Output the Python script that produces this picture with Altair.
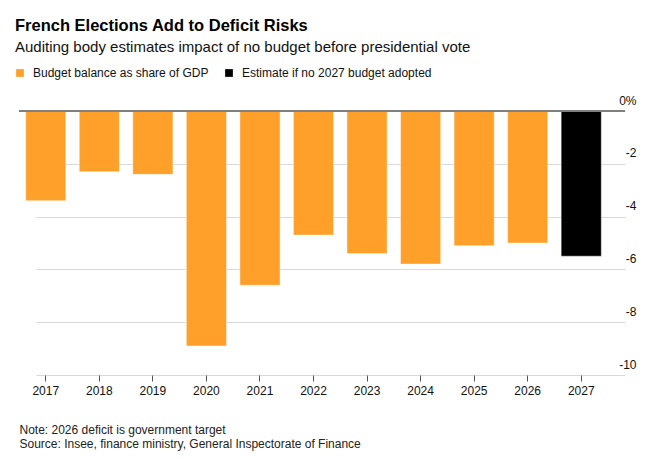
import altair as alt
import pandas as pd

years = ["2017", "2018", "2019", "2020", "2021", "2022", "2023", "2024", "2025", "2026", "2027"]
values = [-3.4, -2.3, -2.4, -8.9, -6.6, -4.7, -5.4, -5.8, -5.1, -5.0, -5.5]
series_names = ["Budget balance as share of GDP", "Estimate if no 2027 budget adopted"]
series = [series_names[0]] * 10 + [series_names[1]]
colors = ["#ffa02b", "#000000"]
y_ticks = [-10, -8, -6, -4, -2, 0]
notes = ["Note: 2026 deficit is government target",
         "Source: Insee, finance ministry, General Inspectorate of Finance"]

df = pd.DataFrame({"year": years, "value": values, "series": series})
FONT = "Liberation Sans"

bars = alt.Chart(df).mark_bar(stroke="white", strokeOpacity=0.45, strokeWidth=1).encode(
    x=alt.X("year:N", sort=years,
            scale=alt.Scale(range=[0, 589], paddingInner=0.25, paddingOuter=0.125),
            axis=alt.Axis(title=notes, titleAnchor="start", titleAlign="left",
                          titleFontWeight="normal", titleFontSize=12, titleColor="#222",
                          titlePadding=28, titleLineHeight=14,
                          labelAngle=0, labelFontSize=12, labelColor="#111", labelPadding=4,
                          domain=False, tickColor="#555", tickSize=6, grid=False)),
    y=alt.Y("value:Q", scale=alt.Scale(domain=[-10, 0], nice=False, zero=True),
            axis=alt.Axis(orient="right", values=y_ticks, title=None,
                          labelExpr="datum.value == 0 ? '0%' : '-' + abs(datum.value)",
                          grid=True, gridColor="#d9d9d9", gridWidth=1,
                          domain=False, ticks=False, labelAlign="right", labelPadding=11,
                          labelBaseline="alphabetic", labelOffset=-7, labelFontSize=12,
                          labelColor="#111")),
    color=alt.Color("series:N", scale=alt.Scale(domain=series_names, range=colors),
                    legend=alt.Legend(title=None, orient="none", legendX=-5, legendY=-44,
                                      direction="horizontal", symbolType="square",
                                      symbolSize=60, symbolStrokeWidth=0,
                                      labelFontSize=12, labelColor="#111", labelLimit=0,
                                      labelOffset=7, columnPadding=14)),
)

zero = alt.Chart(pd.DataFrame({"y": [0]})).mark_rule(color="#808080", strokeWidth=2).encode(
    y="y:Q"
)

chart = alt.layer(bars, zero).properties(
    width=606, height=264,
    autosize=alt.AutoSizeParams(type="none"),
    padding={"left": 11, "top": 103, "right": 30, "bottom": 76},
    title=alt.TitleParams(
        text="French Elections Add to Deficit Risks",
        subtitle="Auditing body estimates impact of no budget before presidential vote",
        anchor="start", frame="group", fontSize=16.5, subtitleFontSize=15, font=FONT,
        subtitleFont=FONT, fontWeight="bold", color="#000", subtitleColor="#111",
        dx=-4, offset=12, subtitlePadding=6,
    ),
).configure(font=FONT).configure_view(stroke=None)

chart.save("out.html", embed_options={"renderer": "svg", "actions": False})
